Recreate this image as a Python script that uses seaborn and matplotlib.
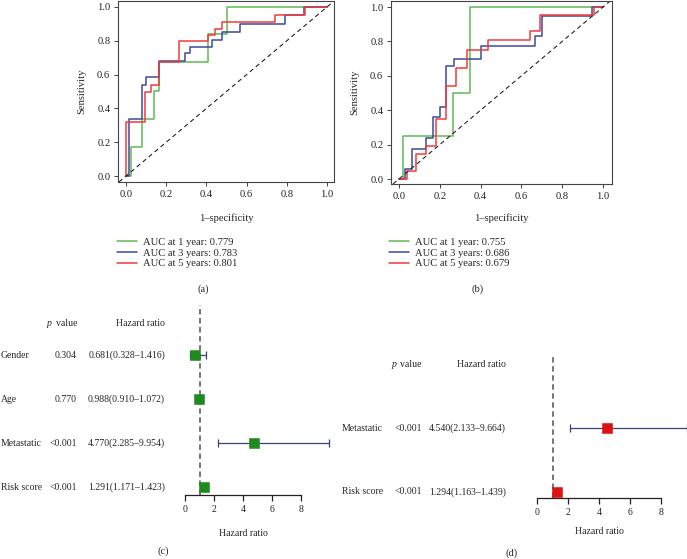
import numpy as np
import pandas as pd
import matplotlib
matplotlib.use("Agg")
import matplotlib.pyplot as plt
import matplotlib.transforms as mtransforms
from matplotlib.lines import Line2D
import seaborn as sns

# ---------------- data ----------------
# ROC panel (a): step points (1-specificity, sensitivity)
a_fpr_1y = [0, 0.023, 0.077, 0.141, 0.164, 0.41, 0.50, 1.0]
a_tpr_1y = [0, 0.172, 0.336, 0.505, 0.675, 0.84, 1.0, 1.0]
a_fpr_3y = [0, 0.016, 0.08, 0.098, 0.163, 0.292, 0.317, 0.43, 0.477, 0.565, 0.792, 0.884, 1.0]
a_tpr_3y = [0, 0.335, 0.54, 0.584, 0.68, 0.73, 0.765, 0.805, 0.85, 0.90, 0.95, 1.0, 1.0]
a_fpr_5y = [0, 0.0, 0.095, 0.123, 0.163, 0.264, 0.407, 0.444, 0.48, 0.739, 0.889, 1.0]
a_tpr_5y = [0, 0.318, 0.50, 0.54, 0.676, 0.80, 0.836, 0.87, 0.91, 0.955, 1.0, 1.0]
a_auc = [0.779, 0.783, 0.801]

# ROC panel (b)
b_fpr_1y = [0, 0.02, 0.265, 0.346, 1.0]
b_tpr_1y = [0, 0.25, 0.498, 1.0, 1.0]
b_fpr_3y = [0, 0.028, 0.065, 0.134, 0.167, 0.20, 0.232, 0.268, 0.404, 0.668, 0.70, 0.945, 1.0]
b_tpr_3y = [0, 0.056, 0.174, 0.238, 0.362, 0.42, 0.657, 0.70, 0.773, 0.83, 0.946, 1.0, 1.0]
b_fpr_5y = [0, 0.04, 0.085, 0.134, 0.183, 0.232, 0.281, 0.333, 0.436, 0.64, 0.69, 0.955, 1.0]
b_tpr_5y = [0, 0.047, 0.143, 0.194, 0.347, 0.543, 0.647, 0.752, 0.81, 0.86, 0.952, 1.0, 1.0]
b_auc = [0.755, 0.686, 0.679]

years = ["1 year", "3 years", "5 years"]

# Forest panel (c)
c_vars = ["Gender", "Age", "Metastatic", "Risk score"]
c_pval = ["0.304", "0.770", "<0.001", "<0.001"]
c_hr = [0.681, 0.988, 4.770, 1.291]
c_lo = [0.328, 0.910, 2.285, 1.171]
c_hi = [1.416, 1.072, 9.954, 1.423]

# Forest panel (d)
d_vars = ["Metastatic", "Risk score"]
d_pval = ["<0.001", "<0.001"]
d_hr = [4.540, 1.294]
d_lo = [2.133, 1.163]
d_hi = [9.664, 1.439]

hr_ticks = [0, 2, 4, 6, 8]
roc_ticks = [0.0, 0.2, 0.4, 0.6, 0.8, 1.0]

# ---------------- style ----------------
sns.set_style("ticks")
plt.rcParams["font.family"] = ["Liberation Serif", "DejaVu Serif"]
plt.rcParams["axes.edgecolor"] = "#444444"
plt.rcParams["xtick.color"] = "#444444"
plt.rcParams["ytick.color"] = "#444444"
plt.rcParams["xtick.labelcolor"] = "#222222"
plt.rcParams["ytick.labelcolor"] = "#222222"

W, H = 687, 559
fig = plt.figure(figsize=(W / 100, H / 100), dpi=100)


def rect(l, t, r, b):
    return [l / W, 1 - b / H, (r - l) / W, (b - t) / H]


def fx(x):
    return x / W


def fy(y):
    return 1 - y / H


roc_colors = ["#5fba55", "#3d4a9c", "#f03a3a"]
FS = 7.6


def roc_panel(box, curves, aucs, xlim, ylim, leg_xy, tag, tag_xy):
    ax = fig.add_axes(rect(*box))
    handles = []
    for (fpr, tpr), col, yr, auc in zip(curves, roc_colors, years, aucs):
        df = pd.DataFrame({"fpr": fpr, "tpr": tpr})
        sns.lineplot(data=df, x="fpr", y="tpr", ax=ax, color=col, sort=False,
                     estimator=None, drawstyle="steps-post", lw=1.1, legend=False)
        handles.append(Line2D([], [], color=col, lw=1.1, label=f"AUC at {yr}: {auc:.3f}"))
    ax.axline((0, 0), (1, 1), color="#222222", lw=0.8, ls=(0, (4, 3)))
    ax.set_xlim(*xlim)
    ax.set_ylim(*ylim)
    ax.set_xticks(roc_ticks)
    ax.set_yticks(roc_ticks)
    ax.set_xticklabels([f"{t:.1f}" for t in roc_ticks])
    ax.set_yticklabels([f"{t:.1f}" for t in roc_ticks])
    ax.tick_params(labelsize=FS, length=3, width=0.7, pad=2.5)
    for s in ax.spines.values():
        s.set_linewidth(0.8)
    ax.set_xlabel("1–specificity", fontsize=FS)
    ax.set_ylabel("Sensitivity", fontsize=FS)
    ax.xaxis.set_label_coords(0.5, (box[3] - 218) / (box[3] - box[1]))
    ax.xaxis.label.set_va("center")
    ax.yaxis.set_label_coords(-36 / (box[2] - box[0]), 0.5)
    ax.yaxis.label.set_va("center")
    ax.legend(handles=handles, loc="upper left", bbox_to_anchor=(fx(leg_xy[0]), fy(leg_xy[1])),
              bbox_transform=fig.transFigure, frameon=False, fontsize=FS,
              handlelength=1.9, handletextpad=0.6, labelspacing=0.12,
              borderpad=0, borderaxespad=0)
    fig.text(fx(tag_xy[0]), fy(tag_xy[1]), tag, ha="center", va="center", fontsize=FS)
    return ax


roc_panel((118, 1, 334, 182),
          [(a_fpr_1y, a_tpr_1y), (a_fpr_3y, a_tpr_3y), (a_fpr_5y, a_tpr_5y)],
          a_auc, (-0.04, 1.035), (-0.0355, 1.0355), (117, 237.5), "(a)", (203, 289))
roc_panel((391, 1, 612, 184),
          [(b_fpr_1y, b_tpr_1y), (b_fpr_3y, b_tpr_3y), (b_fpr_5y, b_tpr_5y)],
          b_auc, (-0.039, 1.044), (-0.029, 1.035), (389, 237.5), "(b)", (478, 289))

FF = 7.0


def forest_panel(box, xlim, ylim, vars_, pvals, hr, lo, hi, sq_color,
                 col_x, header_y, xlabel_y, tag, tag_xy):
    ax = fig.add_axes(rect(*box))
    n = len(vars_)
    rows = list(range(n, 0, -1))
    ax.axvline(1, color="#6a6a6a", lw=1.3, ls=(0, (3, 2)), zorder=1)
    err = [np.array(hr) - np.array(lo), np.array(hi) - np.array(hr)]
    ax.errorbar(hr, rows, xerr=err, fmt="none", ecolor="#3b3f7e", elinewidth=0.9,
                capsize=3.2, capthick=0.9, zorder=2, clip_on=False)
    df = pd.DataFrame({"hr": hr, "row": rows})
    sns.scatterplot(data=df, x="hr", y="row", ax=ax, marker="s", s=44, color=sq_color,
                    edgecolor=sq_color, linewidth=0.4, zorder=3, clip_on=False, legend=False)
    ax.set_xlim(*xlim)
    ax.set_ylim(*ylim)
    ax.set_yticks([])
    ax.set_ylabel("")
    for s in ["left", "top", "right"]:
        ax.spines[s].set_visible(False)
    ax.spines["bottom"].set_bounds(hr_ticks[0], hr_ticks[-1])
    ax.spines["bottom"].set_linewidth(0.9)
    ax.spines["bottom"].set_color("#222222")
    ax.set_xticks(hr_ticks)
    ax.tick_params(axis="x", labelsize=FF, length=4, width=0.9, pad=3.5, color="#222222")
    ax.set_xlabel("Hazard ratio", fontsize=FF)
    bt = mtransforms.blended_transform_factory(ax.transData, fig.transFigure)
    ax.xaxis.set_label_coords(4, fy(xlabel_y), transform=bt)
    ax.xaxis.label.set_va("center")
    tr = mtransforms.blended_transform_factory(fig.transFigure, ax.transData)
    lab_x, p_x, hr_x = col_x
    for r, v, p, h, l, u in zip(rows, vars_, pvals, hr, lo, hi):
        ax.text(fx(lab_x), r, v, transform=tr, ha="left", va="center", fontsize=FF)
        ax.text(fx(p_x), r, p, transform=tr, ha="right", va="center", fontsize=FF)
        ax.text(fx(hr_x), r, f"{h:.3f}({l:.3f}–{u:.3f})", transform=tr,
                ha="right", va="center", fontsize=FF)
    ax.text(fx(p_x), header_y, "value", transform=tr, ha="right", va="center", fontsize=FF)
    ax.text(fx(p_x) - 25.5 / W, header_y, "p", transform=tr, ha="right", va="center",
            fontsize=FF, fontstyle="italic")
    ax.text(fx(hr_x), header_y, "Hazard ratio", transform=tr, ha="right", va="center", fontsize=FF)
    fig.text(fx(tag_xy[0]), fy(tag_xy[1]), tag, ha="center", va="center", fontsize=FS)
    return ax


forest_panel((170, 305, 340, 495), (-15 / 14.5, 155 / 14.5), (0.82, 5.14),
             c_vars, c_pval, c_hr, c_lo, c_hi, "#1f8a1f",
             (1, 77, 165), 4.73, 533, "(c)", (163, 551))
forest_panel((520, 357, 687, 498), (-17 / 15.5, 150 / 15.5), (0.906, 3.11),
             d_vars, d_pval, d_hr, d_lo, d_hi, "#dd1111",
             (342, 422, 506), 3.0, 532, "(d)", (512, 553))

fig.savefig("out.png", dpi=100)
